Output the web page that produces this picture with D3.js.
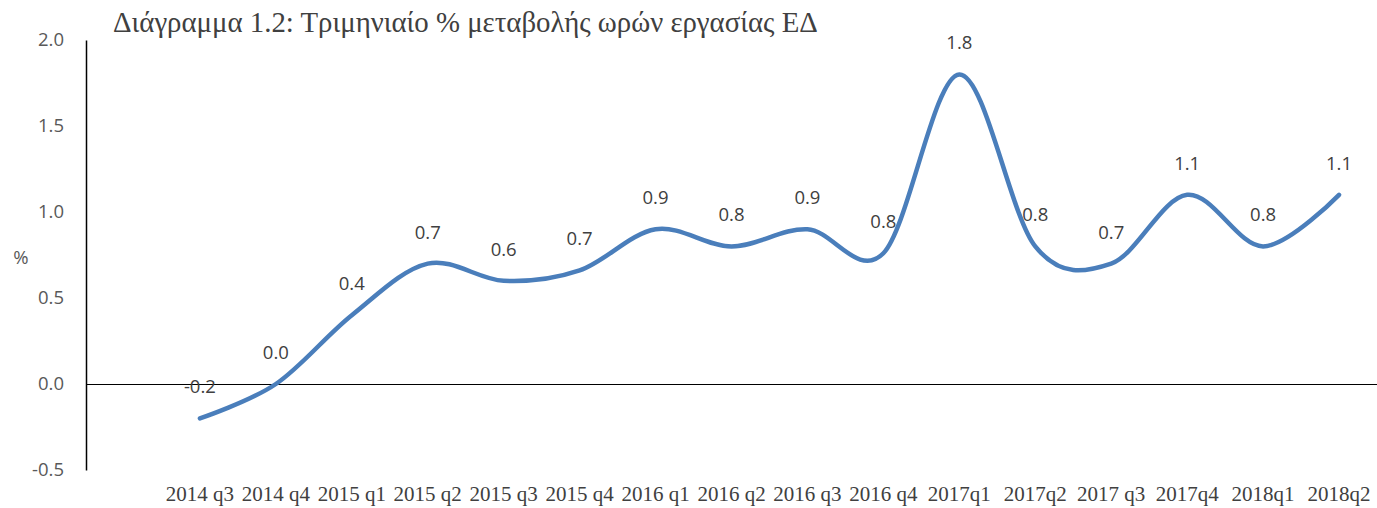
<!DOCTYPE html>
<html>
<head>
<meta charset="utf-8">
<script src="https://cdn.jsdelivr.net/npm/d3@7"></script>
<style>
  body { margin: 0; background: #fff; }
  svg { display: block; }
</style>
</head>
<body>
<div id="chart"></div>
<script>
// data
var quarters = ["2014 q3", "2014 q4", "2015 q1", "2015 q2", "2015 q3", "2015 q4",
                "2016 q1", "2016 q2", "2016 q3", "2016 q4", "2017q1", "2017q2",
                "2017 q3", "2017q4", "2018q1", "2018q2"];
var hoursChange = [-0.2, 0.0, 0.4, 0.7, 0.6, 0.66, 0.9, 0.8, 0.9, 0.76, 1.8, 0.8, 0.7, 1.1, 0.8, 1.1];
var yTicks = [-0.5, 0.0, 0.5, 1.0, 1.5, 2.0];

var W = 1377, H = 508;
// note: "top" is a read-only global in browsers, so use plot* names
var plotL = 86, plotR = 1377, plotT = 40, plotB = 470;

// excel shows a plain hyphen, not the unicode minus
var fmt = d3.formatLocale({decimal: ".", thousands: ",", grouping: [3], currency: ["", ""], minus: "-"}).format(".1f");

var svg = d3.select("#chart").append("svg")
            .attr("width", W)
            .attr("height", H);

// excel left an empty slot before the first quarter
var x = d3.scaleBand()
          .domain([""].concat(quarters))
          .range([plotL, plotR]);

var y = d3.scaleLinear()
          .domain([-0.5, 2.0])
          .range([plotB, plotT]);

function cx(q) { return x(q) + x.bandwidth() / 2; }

// title
var title = svg.append("text")
   .attr("x", 113)
   .attr("y", 32)
   .style("font-family", "'Liberation Serif', 'DejaVu Serif', serif")
   .style("font-size", "25px")
   .style("fill", "#404040")
   .text("Διάγραμμα 1.2: Τριμηνιαίο % μεταβολής ωρών εργασίας ΕΔ");
var tw = title.node().getComputedTextLength();
title.style("font-size", (25 * 705 / tw).toFixed(2) + "px");

// y axis
var yAxis = d3.axisLeft(y)
              .tickValues(yTicks)
              .tickFormat(fmt)
              .tickSize(0)
              .tickPadding(22);

var gy = svg.append("g")
   .attr("transform", "translate(" + plotL + ",0)")
   .call(yAxis);
gy.select(".domain").attr("stroke", "#000").attr("stroke-width", 1.5);
gy.selectAll("text")
  .style("font-family", "'Open Sans', sans-serif")
  .style("font-size", "18.5px")
  .style("fill", "#595959");

svg.append("text")
   .attr("x", 21)
   .attr("y", 258)
   .attr("text-anchor", "middle")
   .attr("dy", "0.35em")
   .style("font-family", "'Open Sans', sans-serif")
   .style("font-size", "18.5px")
   .style("fill", "#595959")
   .text("%");

// x axis along zero
var xAxis = d3.axisBottom(x)
              .tickValues(quarters)
              .tickSize(0);
var gx = svg.append("g")
   .attr("transform", "translate(0," + y(0) + ")")
   .call(xAxis);
gx.select(".domain").attr("stroke", "#000").attr("stroke-width", 1.2);
gx.selectAll("text")
  .attr("y", 501 - y(0))
  .attr("dy", 0)
  .style("font-family", "'Liberation Serif', 'DejaVu Serif', serif")
  .style("font-size", "21px")
  .style("fill", "#404040");

// smoothed line
var line = d3.line()
             .x(function(d, i) { return cx(quarters[i]); })
             .y(function(d) { return y(d); })
             .curve(d3.curveCardinal.tension(0));

svg.append("path")
   .datum(hoursChange)
   .attr("fill", "none")
   .attr("stroke", "#4a7ebb")
   .attr("stroke-width", 4.5)
   .attr("stroke-linecap", "round")
   .attr("d", line);

// data labels
svg.selectAll("text.lbl")
   .data(hoursChange)
   .enter().append("text")
   .attr("class", "lbl")
   .attr("x", function(d, i) { return cx(quarters[i]); })
   .attr("y", function(d) { return y(d) - 25; })
   .attr("text-anchor", "middle")
   .style("font-family", "'Open Sans', sans-serif")
   .style("font-size", "18.5px")
   .style("fill", "#404040")
   .text(function(d) { return fmt(d); });
</script>
</body>
</html>
